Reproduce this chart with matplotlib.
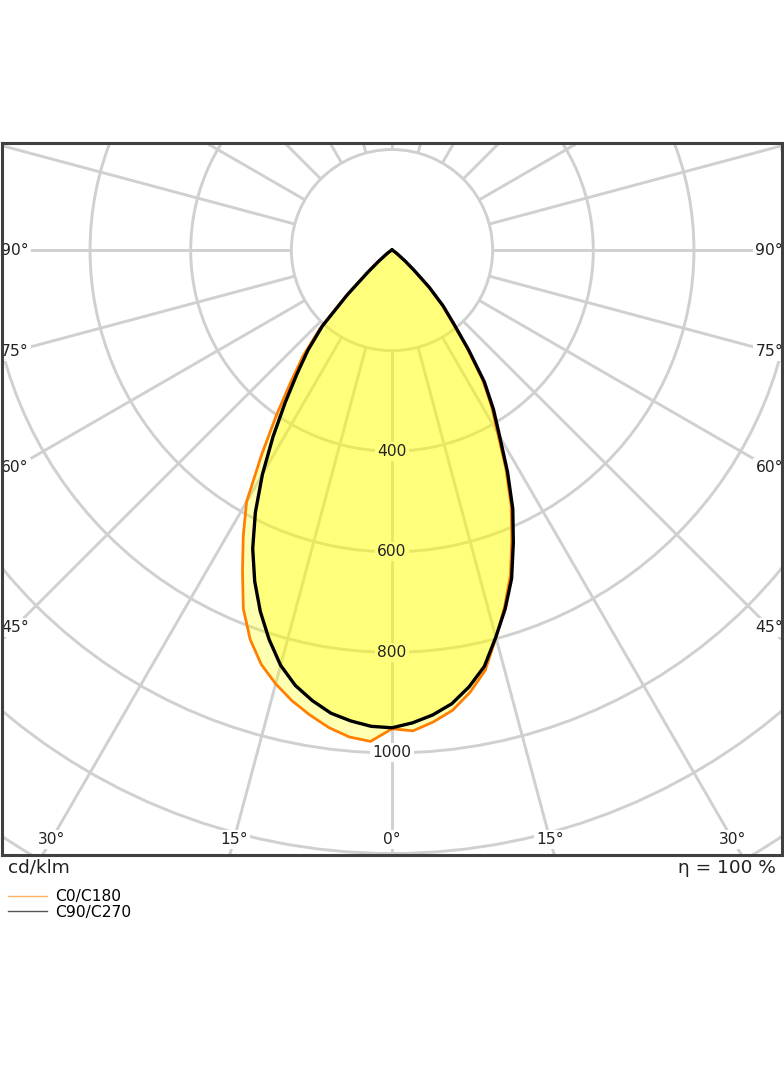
import numpy as np
import matplotlib.pyplot as plt
from matplotlib.patches import Circle
from matplotlib.lines import Line2D

# gamma angles (deg from nadir) and intensities (cd/klm)
gamma = [0, 2.5, 5, 7.5, 10, 12.5, 15, 17.5, 20, 22.5, 25, 27.5, 30, 32.5, 35, 37.5,
         40, 42.5, 45, 47.5, 50, 55, 60, 70, 80, 90]
c0 = [952, 957, 942, 923, 893, 856, 798, 744, 688, 622, 560, 490, 420, 368, 313, 244,
      185, 146, 102, 58, 33, 12, 4, 1, 0, 0]
c180 = [952, 978, 972, 958, 939, 918, 893, 864, 824, 772, 703, 640, 578, 482, 400, 330,
        275, 212, 130, 68, 37, 12, 4, 1, 0, 0]
c90 = [950, 941, 928, 910, 882, 848, 797, 748, 695, 630, 568, 497, 428, 375, 320, 250,
       190, 150, 105, 60, 35, 12, 4, 1, 0, 0]
c270 = [950, 948, 940, 929, 910, 887, 855, 812, 765, 713, 655, 588, 515, 440, 370, 310,
        260, 205, 125, 65, 35, 12, 4, 1, 0, 0]

rings = [200, 400, 600, 800, 1000, 1200, 1400]
ring_labels = [400, 600, 800, 1000]
side_angles = [45, 60, 75, 90]
bottom_angles = [0, 15, 30]

GRID = '#d0d0d0'
TXT = '#222222'
FS = 11.2


def to_xy(left, right):
    g = np.radians(np.concatenate([-np.array(gamma[::-1]), np.array(gamma[1:])]))
    r = np.concatenate([np.array(left[::-1]), np.array(right[1:])])
    return r * np.sin(g), -r * np.cos(g)


fig = plt.figure(figsize=(7.84, 10.66), dpi=100)
ax = fig.add_axes([2 / 784, 211 / 1066, 780 / 784, 712 / 1066])
ax.set_xlim(-775, 775)
ax.set_ylim(-1203, 213)
ax.set_xticks([])
ax.set_yticks([])
for s in ax.spines.values():
    s.set_linewidth(2.2)
    s.set_color('#404040')
    s.set_zorder(10)

# polar grid
for r in rings:
    ax.add_patch(Circle((0, 0), r, fill=False, ec=GRID, lw=2.1, zorder=1))
for a in np.arange(0, 360, 15):
    t = np.radians(a)
    ax.plot([200 * np.sin(t), 2000 * np.sin(t)], [-200 * np.cos(t), -2000 * np.cos(t)],
            color=GRID, lw=2.1, zorder=1, solid_capstyle='butt')

box = dict(fc='white', ec='none', pad=1.5)
for v in ring_labels:
    # white patch under the fill, text on top of it
    ax.text(0, -v, str(v), ha='center', va='center', fontsize=FS, color='none',
            bbox=box, zorder=2)
    ax.text(0, -v, str(v), ha='center', va='center', fontsize=FS, color=TXT, zorder=6)
for a in side_angles:
    y = -750 / np.tan(np.radians(a))
    ax.text(-777, y, f'{a}°', ha='left', va='center', fontsize=FS, color=TXT,
            bbox=box, zorder=2)
    ax.text(777, y, f'{a}°', ha='right', va='center', fontsize=FS, color=TXT,
            bbox=box, zorder=2)
for a in bottom_angles:
    x = 1173 * np.tan(np.radians(a))
    for sx in ([1] if a == 0 else [-1, 1]):
        ax.text(sx * x, -1173, f'{a}°', ha='center', va='center', fontsize=FS,
                color=TXT, bbox=box, zorder=2)

# light distribution curves
xo, yo = to_xy(c180, c0)
xb, yb = to_xy(c270, c90)
ax.fill(xo, yo, color='#ffff00', alpha=0.3, lw=0, zorder=3)
ax.fill(xb, yb, color='#ffff00', alpha=0.3, lw=0, zorder=3)
ax.plot(xo, yo, color='#ff8000', lw=2.0, zorder=4)
ax.plot(xb, yb, color='black', lw=2.4, zorder=5)

fig.text(8 / 784, 1 - 868 / 1066, 'cd/klm', fontsize=13.3, ha='left', va='center', color=TXT)
fig.text(776 / 784, 1 - 868 / 1066, 'η = 100 %', fontsize=13.3, ha='right', va='center',
         color=TXT)

handles = [Line2D([], [], color='#ffb366', lw=1), Line2D([], [], color='#555555', lw=1)]
fig.legend(handles, ['C0/C180', 'C90/C270'], loc='upper left',
           bbox_to_anchor=(2 / 784, 1 - 883 / 1066), frameon=False, fontsize=FS,
           handlelength=2.5, handletextpad=0.5, labelspacing=0.02, borderpad=0.4,
           borderaxespad=0)

fig.savefig('out.png', dpi=100)
